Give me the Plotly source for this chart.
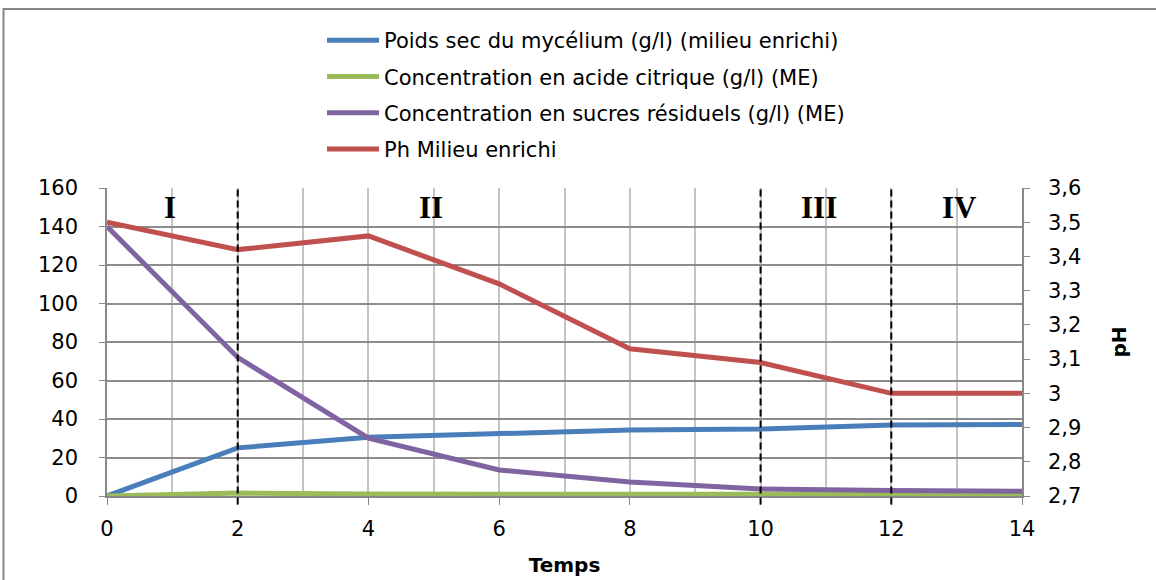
import plotly.graph_objects as go

temps = [0, 2, 4, 6, 8, 10, 12, 14]
poids_sec = [0, 25, 30.5, 32.5, 34.3, 34.8, 36.9, 37.2]
acide_citrique = [0, 1.5, 1.0, 1.0, 1.0, 1.0, 0.8, 0.8]
sucres_residuels = [140, 72, 30, 13.5, 7.3, 3.6, 2.9, 2.5]
ph_milieu = [3.50, 3.42, 3.46, 3.32, 3.13, 3.09, 3.00, 3.00]

names = [
    "Poids sec du mycélium (g/l) (milieu enrichi)",
    "Concentration en acide citrique (g/l) (ME)",
    "Concentration en sucres résiduels (g/l) (ME)",
    "Ph Milieu enrichi",
]
colors = ["#4A7EBB", "#9BBB59", "#8064A2", "#C0504D"]

phase_bounds = [2, 10, 12]
phase_labels = ["I", "II", "III", "IV"]
phase_label_x = [0.97, 4.95, 10.9, 13.05]

ph_ticks = [2.7, 2.8, 2.9, 3.0, 3.1, 3.2, 3.3, 3.4, 3.5, 3.6]
ph_ticktext = ["2,7", "2,8", "2,9", "3", "3,1", "3,2", "3,3", "3,4", "3,5", "3,6"]

FONT = "DejaVu Sans"
FS = 21

fig = go.Figure()
series = [poids_sec, acide_citrique, sucres_residuels]
for i, s in enumerate(series):
    fig.add_trace(go.Scatter(x=temps, y=s, mode="lines", name=names[i],
                             line=dict(color=colors[i], width=5),
                             legendgroup=str(i), yaxis="y"))
fig.add_trace(go.Scatter(x=temps, y=ph_milieu, mode="lines", name=names[3],
                         line=dict(color=colors[3], width=5),
                         legendgroup="3", yaxis="y2"))

for b in phase_bounds:
    fig.add_shape(type="line", xref="x", yref="paper", x0=b, x1=b, y0=-0.028, y1=1,
                  line=dict(color="black", width=2, dash="7px,4px"), layer="above")

for lx, lt in zip(phase_label_x, phase_labels):
    fig.add_annotation(x=lx, y=150, xref="x", yref="y", text="<b>" + lt + "</b>",
                       showarrow=False, font=dict(family="Liberation Serif", size=31, color="black"))

# outer chart frame
fig.add_shape(type="rect", xref="paper", yref="paper",
              x0=-103.5 / 915, x1=1.5, y0=-0.5, y1=(496 - 9) / 308,
              line=dict(color="#888888", width=2), fillcolor="rgba(0,0,0,0)", layer="below")

fig.update_layout(
    width=1156, height=580,
    margin=dict(l=107, r=134, t=188, b=84, autoexpand=False),
    paper_bgcolor="white", plot_bgcolor="white",
    font=dict(family=FONT, size=FS, color="black"),
    showlegend=True,
    legend=dict(x=(322 - 107) / 915, y=(496 - 20) / 308, xanchor="left", yanchor="top",
                font=dict(family=FONT, size=FS), tracegroupgap=6,
                bgcolor="rgba(0,0,0,0)", itemwidth=52),
    xaxis=dict(range=[0, 14], dtick=2, tick0=0, showgrid=True, gridcolor="#C4C4C4", gridwidth=1.5,
               minor=dict(dtick=1, showgrid=True, gridcolor="#C4C4C4", gridwidth=1.5),
               showline=True, linecolor="#888888", linewidth=1.5, ticks="outside", ticklen=7,
               tickcolor="#888888", zeroline=False, ticklabelstandoff=6, automargin=False,
               title=dict(text="<b>Temps</b>", font=dict(family=FONT, size=FS - 1), standoff=18),
               tickfont=dict(family=FONT, size=FS)),
    yaxis=dict(range=[0, 160], dtick=20, tick0=0, showgrid=True, gridcolor="#8C8C8C", gridwidth=1.5,
               showline=True, linecolor="#888888", linewidth=1.5, ticks="outside", ticklen=6,
               tickcolor="#888888", zeroline=False, ticklabelstandoff=17, automargin=False,
               tickfont=dict(family=FONT, size=FS)),
    yaxis2=dict(range=[2.7, 3.6], overlaying="y", side="right", tickvals=ph_ticks,
                ticktext=ph_ticktext, showgrid=False, showline=True, linecolor="#888888",
                linewidth=1.5, ticks="outside", ticklen=6, tickcolor="#888888", zeroline=False,
                ticklabelstandoff=14, automargin=False, tickfont=dict(family=FONT, size=FS),
                title=dict(text="<b>pH</b>", font=dict(family=FONT, size=FS - 1), standoff=32)),
)

fig.write_html("out.html")
